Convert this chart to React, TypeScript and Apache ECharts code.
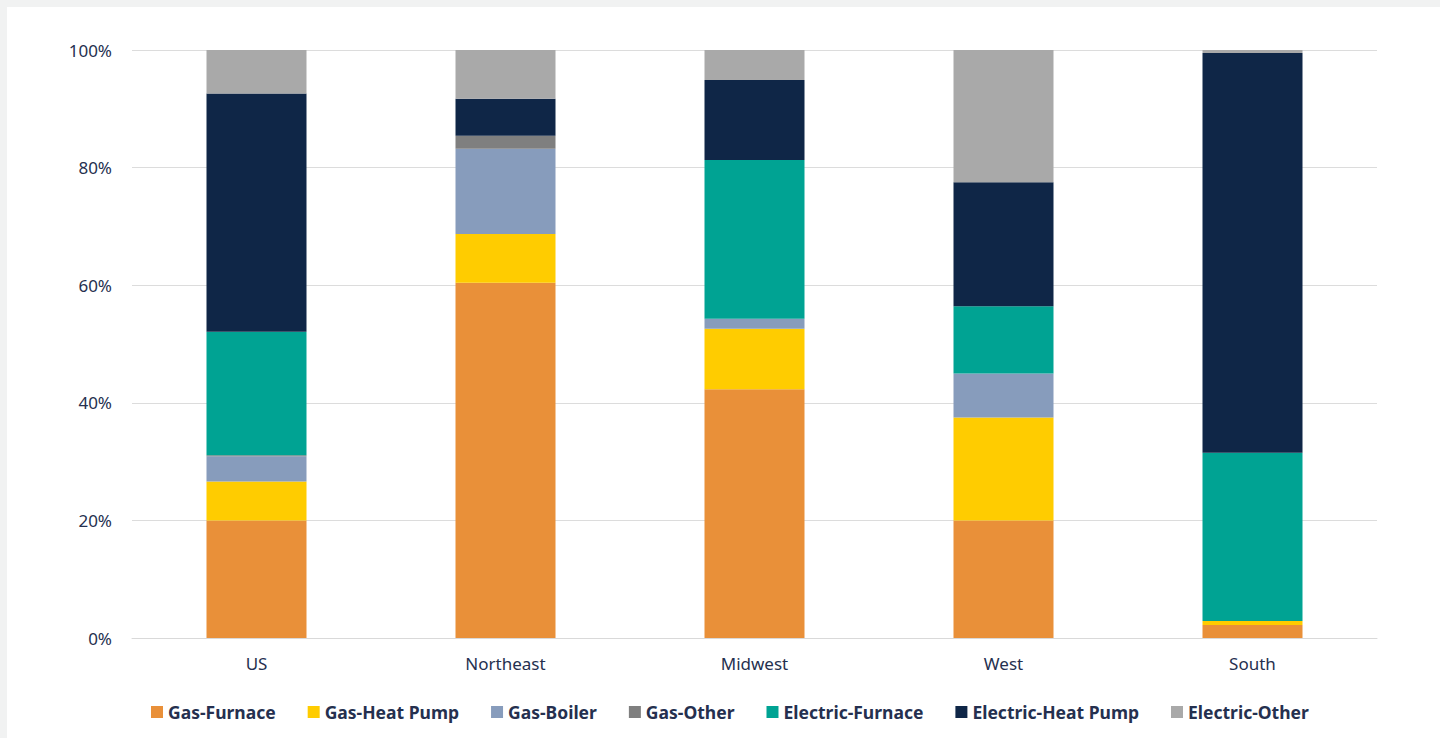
import React, { useEffect, useRef } from "react";
import * as echarts from "echarts";

const categories = ["US", "Northeast", "Midwest", "West", "South"];
const seriesNames = [
  "Gas-Furnace",
  "Gas-Heat Pump",
  "Gas-Boiler",
  "Gas-Other",
  "Electric-Furnace",
  "Electric-Heat Pump",
  "Electric-Other",
];
const gasFurnace = [20.0, 60.4, 42.3, 20.0, 2.2];
const gasHeatPump = [6.6, 8.3, 10.3, 17.5, 0.7];
const gasBoiler = [4.3, 14.5, 1.7, 7.5, 0];
const gasOther = [0.2, 2.2, 0, 0, 0];
const electricFurnace = [21.0, 0, 27.0, 11.4, 28.6];
const electricHeatPump = [40.5, 6.3, 13.6, 21.1, 68.0];
const electricOther = [7.4, 8.3, 5.1, 22.5, 0.5];
const colors = ["#e99039", "#ffcc00", "#879cbc", "#7f7f7f", "#00a393", "#0f2647", "#a9a9a9"];
const yTicks = [0, 20, 40, 60, 80, 100];

const allData = [gasFurnace, gasHeatPump, gasBoiler, gasOther, electricFurnace, electricHeatPump, electricOther];

export default function App() {
  const ref = useRef<HTMLDivElement>(null);
  useEffect(() => {
    document.body.style.margin = "0";
    const chart = echarts.init(ref.current!, undefined, { renderer: "svg" });
    const font = "Noto Sans";
    const textColor = "#25304f";
    chart.setOption({
      animation: false,
      backgroundColor: "#ffffff",
      textStyle: { fontFamily: font },
      grid: { left: 125, right: 63, top: 43, bottom: 100, containLabel: false },
      legend: {
        bottom: 12,
        left: 139,
        itemWidth: 12,
        itemHeight: 12,
        itemGap: 32,
        icon: "rect",
        data: seriesNames,
        textStyle: { color: textColor, fontSize: 17.5, fontWeight: "bold", fontFamily: font },
      },
      xAxis: {
        type: "category",
        data: categories,
        axisLine: { lineStyle: { color: "#d9d9d9", width: 1 } },
        axisTick: { show: false },
        axisLabel: { color: textColor, fontSize: 17, margin: 17, fontFamily: font },
      },
      yAxis: {
        type: "value",
        min: 0,
        max: 100,
        interval: 20,
        axisLine: { show: false },
        axisTick: { show: false },
        splitLine: { lineStyle: { color: "#dcdcdc", width: 1 } },
        axisLabel: {
          color: textColor,
          fontSize: 17,
          margin: 20,
          fontFamily: font,
          formatter: (v: number) => (yTicks.includes(v) ? v + "%" : ""),
        },
      },
      series: seriesNames.map((name, i) => ({
        name,
        type: "bar",
        stack: "total",
        barWidth: 100,
        itemStyle: { color: colors[i] },
        data: allData[i],
      })),
    });
    return () => chart.dispose();
  }, []);
  return (
    <div style={{ position: "absolute", left: 0, top: 0, width: 1440, height: 738, background: "#f1f2f2" }}>
      <div ref={ref} style={{ position: "absolute", left: 7, top: 7, width: 1433, height: 731 }} />
    </div>
  );
}
